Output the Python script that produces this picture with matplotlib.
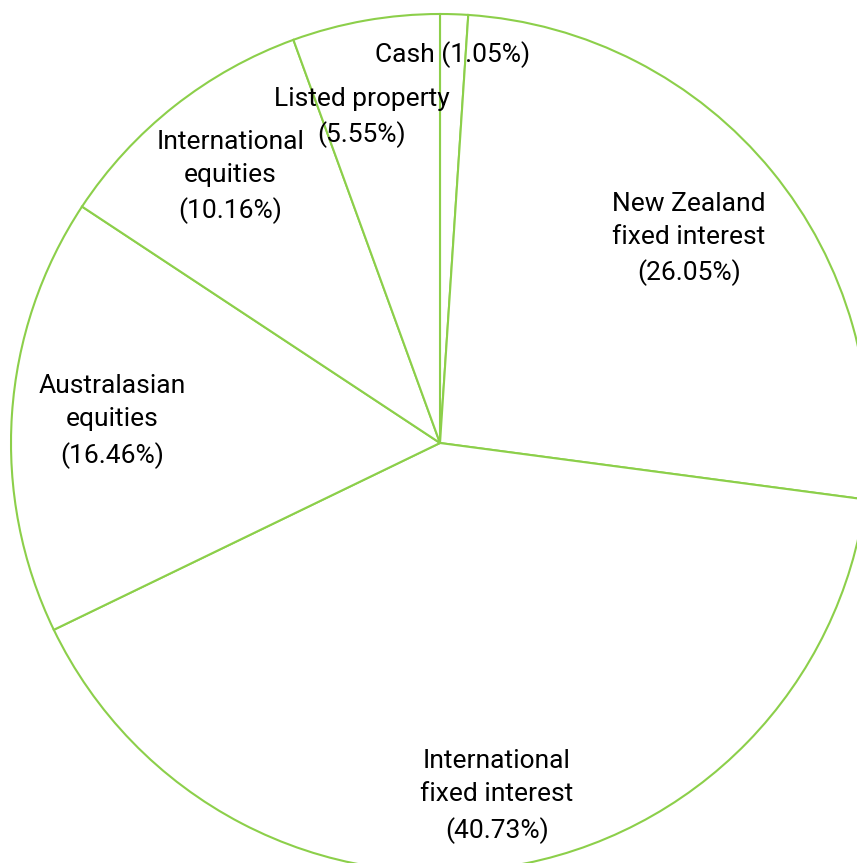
import numpy as np
import matplotlib
matplotlib.use("Agg")
import matplotlib.pyplot as plt

plt.rcParams['font.family'] = ['Roboto', 'DejaVu Sans']

labels = ['Cash', 'New Zealand\nfixed interest', 'International\nfixed interest',
          'Australasian\nequities', 'International\nequities', 'Listed property']
shares = [1.05, 26.05, 40.73, 16.46, 10.16, 5.55]

# radial distance of each label (fraction of radius)
label_dist = [0.907, 0.75, 0.834, 0.766, 0.79, 0.78]
label_shift = [0, 0, 0, 0, 0, 3.5]  # degrees

green = '#8ccf4a'
W, H = 857, 863
cx, cy, R = 440, 420, 429

fig = plt.figure(figsize=(W / 100, H / 100), dpi=100)
ax = fig.add_axes([0, 0, 1, 1])
wedges, _ = ax.pie(shares, startangle=90, counterclock=False, radius=1,
                   colors=['white'] * len(shares),
                   wedgeprops=dict(edgecolor=green, linewidth=1.5))

for w, lab, val, d, s in zip(wedges, labels, shares, label_dist, label_shift):
    mid = np.deg2rad((w.theta1 + w.theta2) / 2 + s)
    sep = ' ' if lab == 'Cash' else '\n'
    ax.text(d * np.cos(mid), d * np.sin(mid), f'{lab}{sep}({val:.2f}%)',
            ha='center', va='center', fontsize=19, linespacing=1.5,
            color='black')

ax.set_xlim(-cx / R, (W - cx) / R)
ax.set_ylim(-cy / R, (H - cy) / R)
ax.set_aspect('auto')
ax.axis('off')

fig.savefig('out.png', dpi=100)
